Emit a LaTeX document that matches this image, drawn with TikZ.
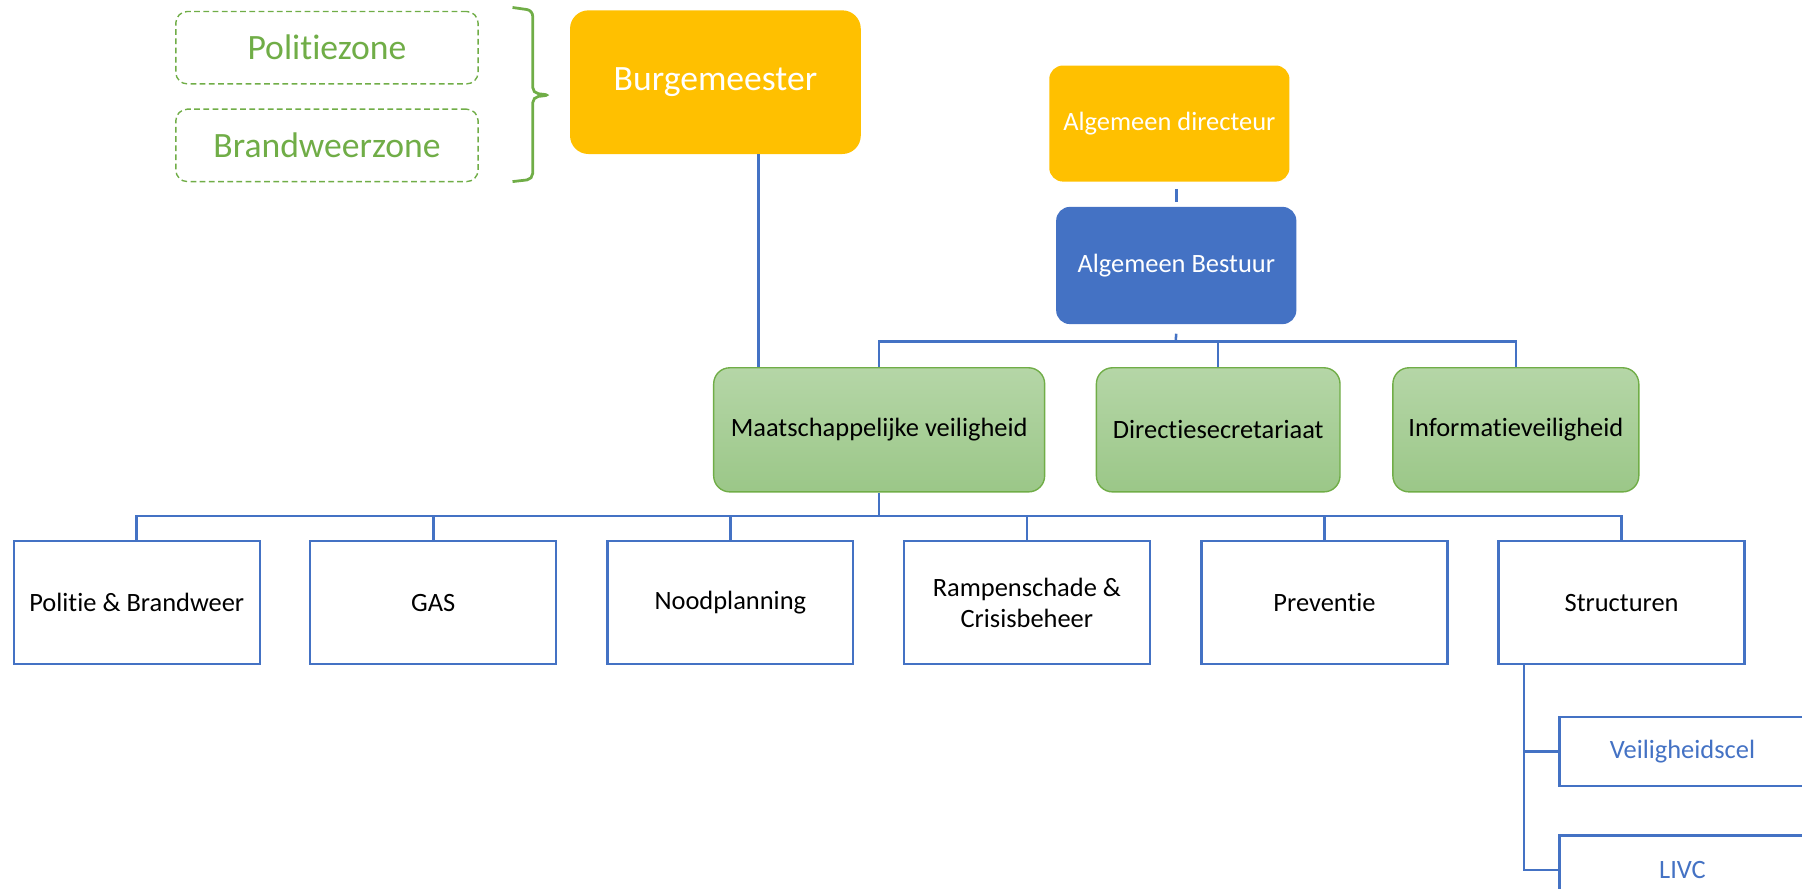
\documentclass[tikz,border=0pt]{standalone}
\usepackage{fontspec}
\setmainfont{Carlito}[Ligatures=NoCommon]
\definecolor{burgorange}{HTML}{FFC000}
\definecolor{bestblue}{HTML}{4472C4}
\definecolor{zonegreen}{HTML}{70AD47}
\definecolor{grtop}{HTML}{B5D6A7}
\definecolor{grbot}{HTML}{9BC788}
\newcommand{\bigtxt}{\fontsize{15.5}{18}\selectfont}
\newcommand{\smalltxt}{\fontsize{11.5}{13.5}\selectfont}
\begin{document}
\begin{tikzpicture}[x=0.5pt,y=-0.5pt,
  every node/.style={inner sep=0pt},
  zone/.style={draw=zonegreen, line width=0.6pt, dash pattern=on 2.5pt off 1.5pt, rounded corners=5pt,
    minimum width=131.5pt, minimum height=31.5pt, text=zonegreen, font=\bigtxt},
  chief/.style={fill=burgorange, rounded corners=8pt, text=white},
  dept/.style={draw=zonegreen, line width=0.6pt, top color=grtop, bottom color=grbot, rounded corners=7pt,
    minimum height=54pt, font=\smalltxt},
  unit/.style={draw=bestblue, line width=1pt, fill=white, minimum width=107pt, minimum height=53.5pt,
    font=\smalltxt, align=center},
  cell/.style={draw=bestblue, line width=1pt, fill=white, minimum width=107pt, minimum height=30pt,
    font=\smalltxt, text=bestblue},
  link/.style={draw=bestblue, line width=1.1pt}]
\useasboundingbox (0,0) rectangle (1568,772.7);
\clip (0,0) rectangle (1568,772.7);

\node [zone] (polz) at (284.5,41.5) {Politiezone};
\node [zone] (brwz) at (284.5,126.5) {Brandweerzone};
\draw [zonegreen, line width=1.2pt, rounded corners=2.5pt]
  (446,6.5) -- (463.5,9) -- (463.5,81) -- (478.5,82.7) -- (463.5,84.5) -- (463.5,156) -- (446,158);
\node [chief, minimum width=126.5pt, minimum height=62.5pt, font=\bigtxt] (burg) at (622.5,71.5) {Burgemeester};
\node [chief, rounded corners=6pt, minimum width=104.5pt, minimum height=50.5pt, font=\smalltxt] (adir) at (1017.5,107.5) {Algemeen directeur};
\node [chief, fill=bestblue, rounded corners=6pt, minimum width=104.5pt, minimum height=51pt, font=\smalltxt] (abest) at (1023.5,231) {Algemeen Bestuur};

\node [dept, minimum width=144pt] (mv) at (765,374) {Maatschappelijke veiligheid};
\node [dept, minimum width=106pt] (dsec) at (1060,374) {Directiesecretariaat};
\node [dept, minimum width=107pt] (iv) at (1319,374) {Informatieveiligheid};

\node [unit] (pb) at (119,524.5) {Politie \& Brandweer};
\node [unit] (gas) at (377,524.5) {GAS};
\node [unit] (nood) at (635.5,524.5) {Noodplanning};
\node [unit] (ramp) at (893.5,524.5) {Rampenschade \&\\Crisisbeheer};
\node [unit] (prev) at (1152.5,524.5) {Preventie};
\node [unit] (struc) at (1411,524.5) {Structuren};

\node [cell] (vcel) at (1464,654) {Veiligheidscel};
\node [cell] (livc) at (1464,757) {LIVC};

\coordinate (bus1) at (1023,297);
\coordinate (bus2) at (765,449);
\coordinate (stem) at ([xshift=11.5pt]struc.south west);

\draw [link] ([yshift=-3pt]adir.south -| abest.north) -- ([yshift=2pt]abest.north);
\draw [link] ([yshift=-4pt]abest.south) -- (bus1);
\draw [link] (mv.north) |- (iv.north |- bus1) -- (iv.north);
\draw [link] (dsec.north) -- (dsec.north |- bus1);
\draw [link] (burg.south -| 660,0) -- (mv.north -| 660,0);
\draw [link] (mv.south) -- (bus2);
\draw [link] (pb.north) |- (struc.north |- bus2) -- (struc.north);
\foreach \n in {gas,nood,ramp,prev}
  \draw [link] (\n.north) -- (\n.north |- bus2);
\draw [link] (stem) |- (livc.west);
\draw [link] (vcel.west) -- (vcel.west -| stem);
\end{tikzpicture}
\end{document}
